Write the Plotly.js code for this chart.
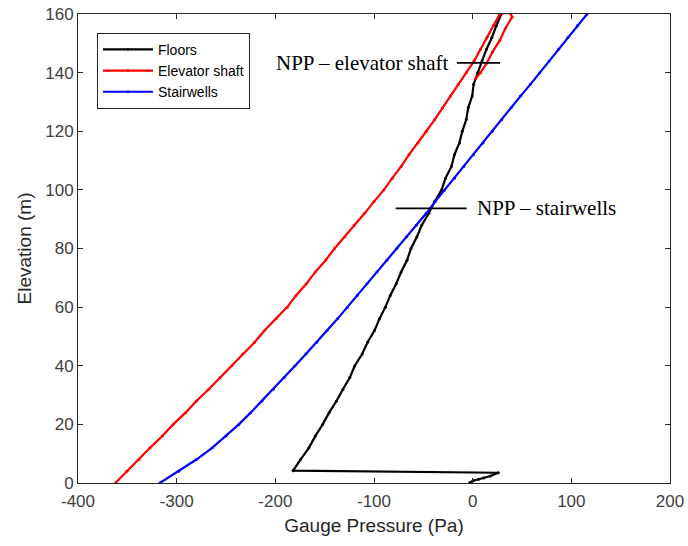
<!DOCTYPE html>
<html>
<head>
<meta charset="utf-8">
<script src="https://cdn.plot.ly/plotly-3.0.1.min.js"></script>
<style>html,body{margin:0;padding:0;background:#fff;}#chart{width:688px;height:546px;}</style>
</head>
<body>
<div id="chart"></div>
<script>
// Floors (black)
var floorsPressure = [-3, 0.5, 6, 11, 18, 26,
  -182, -174.5, -166, -159.5, -152, -145.5, -138, -131.5, -124.5, -119.5, -112, -106.5, -99.5, -94.5, -88.5, -83.5,
  -77.5, -72.5, -66.5, -62.5, -56.5, -51.5, -44.5, -38.5, -31.5, -27.5, -21.5, -18.5, -13.5, -10.5, -6.5, -4.5, -0.5, 1, 5, 9.5, 14, 19.5, 24, 29];
var floorsElev = [0.1, 0.8, 1.3, 1.7, 2.4, 3.5,
  4.2, 8, 12, 16, 20, 24, 28, 32, 36, 40, 44, 48, 52, 56, 60, 64,
  68, 72, 76, 80, 84, 88, 92, 96, 100, 104, 108, 112, 116, 120, 124, 128, 132, 136, 140, 144, 148, 152, 156, 160];

// Elevator shaft (red)
var elevatorPressure = [-362, -350.5, -338, -327, -314.5, -303.5, -291, -280, -267.5, -256, -244, -233, -221, -211, -199, -188,
  -179, -168.5, -159.5, -149, -140, -129.5, -120, -109.5, -100, -90, -81.5, -72.5, -64.5, -55.5, -47, -38.5, -30.5, -22.5, -14.5, -6.5, 1.5, 8, 14.5, 21, 27.5,
  33, 38, 40, 33, 27.5, 20, 14.5, 8, 3];
var elevatorElev = [0, 4, 8, 12, 16, 20, 24, 28, 32, 36, 40, 44, 48, 52, 56, 60,
  64, 68, 72, 76, 80, 84, 88, 92, 96, 100, 104, 108, 112, 116, 120, 124, 128, 132, 136, 140, 144, 148, 152, 156, 160,
  160.4, 160.3, 159, 155, 151, 147, 143.3, 140, 138];

// Stairwells (blue)
var stairPressure = [-317, -298, -280, -264, -250, -237, -225, -213.5, -202, -191, -180, -169, -158, -147.5, -137, -127,
  -117, -107, -97, -87, -77, -67, -57, -47, -38, -28.5, -18.5, -9, 0.8, 10.5, 20, 29.5, 39, 48.5, 58.5, 68, 77.5, 87, 96.5, 106, 116];
var stairElev = [0, 4, 8, 12, 16, 20, 24, 28, 32, 36, 40, 44, 48, 52, 56, 60,
  64, 68, 72, 76, 80, 84, 88, 92, 96, 100, 104, 108, 112, 116, 120, 124, 128, 132, 136, 140, 144, 148, 152, 156, 160];

// Neutral pressure plane markers
var nppLabels = ["NPP \u2013 elevator shaft", "NPP \u2013 stairwells"];
var nppElev = [143.3, 93.7];
var nppLineFrom = [-16, -78];
var nppLineTo = [27.7, -6];
var nppTextX = [-22, 2.5];
var nppAnchor = ["right", "left"];

var xTicks = [-400, -300, -200, -100, 0, 100, 200];
var yTicks = [0, 20, 40, 60, 80, 100, 120, 140, 160];

function series(x, y, name, color) {
  return {x: x, y: y, name: name, type: 'scatter', mode: 'lines+markers',
    line: {color: color, width: 2.2}, marker: {color: color, size: 3}};
}
var data = [
  series(floorsPressure, floorsElev, 'Floors', '#000000'),
  series(elevatorPressure, elevatorElev, 'Elevator shaft', '#ff0000'),
  series(stairPressure, stairElev, 'Stairwells', '#0000ff')
];

var shapes = [], annotations = [];
for (var i = 0; i < nppLabels.length; i++) {
  shapes.push({type: 'line', xref: 'x', yref: 'y', x0: nppLineFrom[i], x1: nppLineTo[i], y0: nppElev[i], y1: nppElev[i],
    line: {color: '#000', width: 1.8}});
  annotations.push({xref: 'x', yref: 'y', x: nppTextX[i], y: nppElev[i], text: nppLabels[i], showarrow: false,
    xanchor: nppAnchor[i], yanchor: 'middle', font: {family: 'Liberation Serif, Times New Roman, serif', size: 21, color: '#000'}});
}

var axisCommon = {
  showgrid: false, zeroline: false, showline: true, linecolor: '#262626', linewidth: 1,
  mirror: 'ticks', ticks: 'inside', ticklen: 5, tickwidth: 1, tickcolor: '#262626',
  tickfont: {family: 'Liberation Sans, Arial, sans-serif', size: 17, color: '#404040'}
};

var layout = {
  width: 688, height: 546,
  margin: {l: 78, r: 18, t: 14, b: 63},
  paper_bgcolor: '#fff', plot_bgcolor: '#fff',
  showlegend: true,
  legend: {x: 0.032, y: 0.96, xanchor: 'left', yanchor: 'top', bgcolor: '#fff',
    bordercolor: '#262626', borderwidth: 1, tracegroupgap: 0, itemwidth: 50,
    font: {family: 'Liberation Sans, Arial, sans-serif', size: 14, color: '#000'}},
  xaxis: Object.assign({}, axisCommon, {range: [-400, 200], tickvals: xTicks, ticktext: xTicks.map(String),
    ticklabelstandoff: 3,
    title: {text: 'Gauge Pressure (Pa)', standoff: 8, font: {family: 'Liberation Sans, Arial, sans-serif', size: 19, color: '#262626'}}}),
  yaxis: Object.assign({}, axisCommon, {range: [0, 160], tickvals: yTicks, ticktext: yTicks.map(String),
    title: {text: 'Elevation (m)', standoff: 8, font: {family: 'Liberation Sans, Arial, sans-serif', size: 19, color: '#262626'}}}),
  shapes: shapes, annotations: annotations
};

Plotly.newPlot('chart', data, layout, {displayModeBar: false, staticPlot: true});
</script>
</body>
</html>
